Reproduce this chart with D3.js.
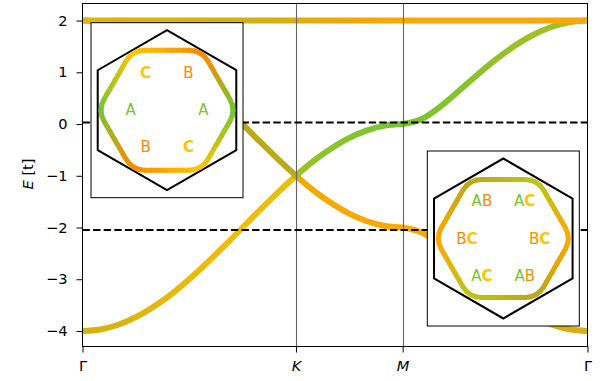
<!DOCTYPE html>
<html>
<head>
<meta charset="utf-8">
<script src="https://cdn.jsdelivr.net/npm/d3@7"></script>
<style>
  body { margin: 0; background: #fff; }
  svg { display: block; }
  text { font-family: "DejaVu Sans", sans-serif; }
</style>
</head>
<body>
<svg id="chart" width="600" height="381"></svg>
<script>
/*
 kagome band structure along Γ-K-M-Γ, bands coloured by sublattice weight,
 with two Fermi-surface insets
*/

// high-symmetry points on the k-path (units of |ΓK|)
const symK = [0, 1, 1.5, 2.366];
const symLabels = ["Γ", "K", "M", "Γ"];
const yTicks = [-4, -3, -2, -1, 0, 1, 2];
const fermiLevels = [0.03, -2.05];

// sampled k along each leg of the path
const kGK = [0, 0.083, 0.167, 0.25, 0.333, 0.417, 0.5, 0.583, 0.667, 0.75, 0.833, 0.917, 1];
const kKM = [1, 1.083, 1.167, 1.25, 1.333, 1.417, 1.5];
const kMG = [1.5, 1.587, 1.673, 1.76, 1.846, 1.933, 2.02, 2.106, 2.193, 2.279, 2.366];

// energies [t]
const lowGK = [-4, -3.97, -3.879, -3.732, -3.532, -3.286, -3.0, -2.684, -2.347, -2.0, -1.653, -1.316, -1];
const lowKM = [-1, -1.286, -1.532, -1.732, -1.879, -1.97, -2];
const lowMG = [-2, -2.093, -2.328, -2.628, -2.94, -3.236, -3.497, -3.711, -3.87, -3.967, -4];
const midGK = [2, 1.97, 1.879, 1.732, 1.532, 1.286, 1.0, 0.684, 0.347, 0, -0.347, -0.684, -1];
const midKM = [-1, -0.714, -0.468, -0.268, -0.121, -0.03, 0];
const midMG = [0, 0.093, 0.328, 0.628, 0.94, 1.236, 1.497, 1.711, 1.87, 1.967, 2];
const flatK = [0, 1, 1.5, 2.366];
const flatE = [2, 2, 2, 2];

// sublattice weights [A, B, C] along each band
const lowStopK = [0, 0.5, 0.75, 1, 1, 1.5, 1.7, 2.366];
const lowStopW = [[.33,.33,.34],[.15,.15,.7],[.1,.1,.8],[.2,.05,.75],[.1,.45,.45],[0,.5,.5],[.02,.5,.48],[.33,.33,.34]];
const midStopK = [0, 0.7, 1, 1, 1.25, 1.5, 1.8, 2.366];
const midStopW = [[.4,.4,.2],[.5,.5,0],[.5,.45,.05],[.75,.05,.2],[.9,.02,.08],[1,0,0],[.85,.05,.1],[.6,.1,.3]];
const flatStopK = [0, 0.75, 1, 1.25, 1.5, 2.366];
const flatStopW = [[.25,.25,.5],[.33,.33,.34],[.25,.4,.35],[.1,.5,.4],[0,.5,.5],[0,.5,.5]];

const subColors = ["#76c533", "#ff8a00", "#ffc400"]; // A, B, C

// Fermi contours (insets): radius vs angle from an M direction, 0..30 deg in 5 deg steps (units of |ΓK|)
const fermiProfile1 = [0.824, 0.818, 0.798, 0.777, 0.761, 0.753, 0.750];
const fermiProfile2 = [0.812, 0.805, 0.786, 0.765, 0.750, 0.742, 0.739];
// weights at the six M directions, 0, 60, ... 300 deg
const vertexW1 = [[1,0,0],[0,1,0],[0,0,1],[1,0,0],[0,1,0],[0,0,1]];
const vertexW2 = [[0,.5,.5],[.5,0,.5],[.5,.5,0],[0,.5,.5],[.5,0,.5],[.5,.5,0]];
const labels1 = ["A", "B", "C", "A", "B", "C"];
const labels2 = ["BC", "AC", "AB", "BC", "AC", "AB"];
const bzAngles = [30, 90, 150, 210, 270, 330];

const W = 600, H = 381;
const margin = { left: 82.5, right: 12.5, top: 3.5, bottom: 34.5 };
const svg = d3.select("#chart");
const defs = svg.append("defs");

const x = d3.scaleLinear().domain([0, 2.366]).range([margin.left, W - margin.right]);
const y = d3.scaleLinear().domain([-4.3, 2.33]).range([H - margin.bottom, margin.top]);

function mix(w) {
    const tot = d3.sum(w);
    const cs = subColors.map(c => d3.rgb(c));
    return d3.rgb(
        d3.sum(cs, (c, i) => c.r * w[i]) / tot,
        d3.sum(cs, (c, i) => c.g * w[i]) / tot,
        d3.sum(cs, (c, i) => c.b * w[i]) / tot
    ).formatHex();
}

defs.append("clipPath").attr("id", "axclip")
    .append("rect")
    .attr("x", x(0)).attr("y", y(2.33))
    .attr("width", x(2.366) - x(0)).attr("height", y(-4.3) - y(2.33));

// bands
const bands = [
    { legs: [[kGK, lowGK], [kKM, lowKM], [kMG, lowMG]], sk: lowStopK, sw: lowStopW },
    { legs: [[kGK, midGK], [kKM, midKM], [kMG, midMG]], sk: midStopK, sw: midStopW },
    { legs: [[flatK, flatE]], sk: flatStopK, sw: flatStopW },
];

const line = d3.line()
    .x(d => x(d[0]))
    .y(d => y(d[1]))
    .curve(d3.curveCatmullRom.alpha(0.5));

const plot = svg.append("g").attr("clip-path", "url(#axclip)");

bands.forEach((b, bi) => {
    const grad = defs.append("linearGradient")
        .attr("id", "band" + bi)
        .attr("gradientUnits", "userSpaceOnUse")
        .attr("x1", x(0)).attr("x2", x(2.366))
        .attr("y1", 0).attr("y2", 0);
    b.sk.forEach((k, i) => {
        grad.append("stop")
            .attr("offset", k / 2.366)
            .attr("stop-color", mix(b.sw[i]));
    });
    const d = b.legs.map(([ks, es]) => line(ks.map((k, i) => [k, es[i]]))).join("");
    plot.append("path")
        .attr("d", d)
        .attr("fill", "none")
        .attr("stroke", `url(#band${bi})`)
        .attr("stroke-width", 6)
        .attr("stroke-linecap", "round")
        .attr("stroke-linejoin", "round");
});

// K and M markers
plot.selectAll(".vline")
    .data(symK.slice(1, 3))
    .join("line")
    .attr("x1", d => Math.round(x(d)) + 0.5).attr("x2", d => Math.round(x(d)) + 0.5)
    .attr("y1", y(2.33)).attr("y2", y(-4.3))
    .attr("stroke", "#666")
    .attr("stroke-width", 1.1);

// Fermi levels
plot.selectAll(".ef")
    .data(fermiLevels)
    .join("line")
    .attr("x1", x(0)).attr("x2", x(2.366))
    .attr("y1", d => y(d)).attr("y2", d => y(d))
    .attr("stroke", "#000")
    .attr("stroke-width", 2)
    .attr("stroke-dasharray", "7.4,3.2");

// spines
svg.append("rect")
    .attr("x", x(0)).attr("y", y(2.33))
    .attr("width", x(2.366) - x(0)).attr("height", y(-4.3) - y(2.33))
    .attr("fill", "none").attr("stroke", "#000").attr("stroke-width", 1);

// axes
const fmt = d => d < 0 ? "\u2212" + Math.abs(d) : String(d);
const yAx = svg.append("g")
    .attr("transform", `translate(${x(0)},0)`)
    .call(d3.axisLeft(y).tickValues(yTicks).tickSize(6).tickPadding(9).tickFormat(fmt));
yAx.select(".domain").remove();

const xAx = svg.append("g")
    .attr("transform", `translate(0,${y(-4.3)})`)
    .call(d3.axisBottom(x).tickValues(symK).tickSize(6).tickPadding(8).tickFormat((d, i) => symLabels[i]));
xAx.select(".domain").remove();
xAx.selectAll("text").attr("font-style", (d, i) => (i === 1 || i === 2) ? "italic" : "normal");

svg.selectAll(".tick line").attr("stroke", "#000").attr("stroke-width", 1);
svg.selectAll(".tick text")
    .attr("font-family", "DejaVu Sans, sans-serif")
    .attr("font-size", 14.6)
    .attr("fill", "#000");

const ylab = svg.append("text")
    .attr("transform", `translate(33,174) rotate(-90)`)
    .attr("text-anchor", "middle")
    .attr("font-size", 14.6);
ylab.append("tspan").attr("font-style", "italic").text("E");
ylab.append("tspan").text(" [t]");

// insets
const insets = [
    { box: [91, 22.7, 152, 175], profile: fermiProfile1, vw: vertexW1, labels: labels1 },
    { box: [427.3, 151, 152, 175], profile: fermiProfile2, vw: vertexW2, labels: labels2 },
];
const letterColor = { A: subColors[0], B: subColors[1], C: subColors[2] };

insets.forEach((ins, ii) => {
    const [bx, by, bw, bh] = ins.box;
    const kx = d3.scaleLinear().domain([-0.95, 0.95]).range([bx, bx + bw]);
    const ky = d3.scaleLinear().domain([-1.094, 1.094]).range([by + bh, by]);
    const rad = Math.PI / 180;
    const g = svg.append("g");

    g.append("rect")
        .attr("x", bx).attr("y", by).attr("width", bw).attr("height", bh)
        .attr("fill", "#fff").attr("stroke", "#000").attr("stroke-width", 1);

    // Brillouin zone
    g.append("path")
        .attr("d", d3.line().curve(d3.curveLinearClosed)(
            bzAngles.map(a => [kx(Math.cos(a * rad)), ky(Math.sin(a * rad))])))
        .attr("fill", "none").attr("stroke", "#000").attr("stroke-width", 2);

    // Fermi contour, coloured by sublattice weight
    const pts = d3.range(0, 360, 5).map(a => {
        const m = a % 60;
        const r = ins.profile[Math.min(m, 60 - m) / 5];
        const s = Math.floor(a / 60), f = m / 60;
        const w = ins.vw[s].map((v, j) => v * (1 - f) + ins.vw[(s + 1) % 6][j] * f);
        return { px: kx(r * Math.cos(a * rad)), py: ky(r * Math.sin(a * rad)), c: mix(w) };
    });
    pts.forEach((p, i) => {
        const q = pts[(i + 1) % pts.length];
        const gid = `fs${ii}_${i}`;
        const lg = defs.append("linearGradient").attr("id", gid)
            .attr("gradientUnits", "userSpaceOnUse")
            .attr("x1", p.px).attr("y1", p.py).attr("x2", q.px).attr("y2", q.py);
        lg.append("stop").attr("offset", 0).attr("stop-color", p.c);
        lg.append("stop").attr("offset", 1).attr("stop-color", q.c);
        g.append("line")
            .attr("x1", p.px).attr("y1", p.py).attr("x2", q.px).attr("y2", q.py)
            .attr("stroke", `url(#${gid})`)
            .attr("stroke-width", 5)
            .attr("stroke-linecap", "round");
    });

    // sublattice labels
    ins.labels.forEach((lab, i) => {
        const a = i * 60;
        const r = (a % 180 === 0) ? 0.455 : 0.535;
        const t = g.append("text")
            .attr("x", kx(r * Math.cos(a * rad)))
            .attr("y", ky(r * Math.sin(a * rad)))
            .attr("text-anchor", "middle")
            .attr("dominant-baseline", "central")
            .attr("font-size", 15);
        lab.split("").forEach(ch => {
            t.append("tspan")
                .attr("fill", letterColor[ch])
                .attr("font-weight", ch === "C" ? "bold" : "normal")
                .text(ch);
        });
    });
});
</script>
</body>
</html>
